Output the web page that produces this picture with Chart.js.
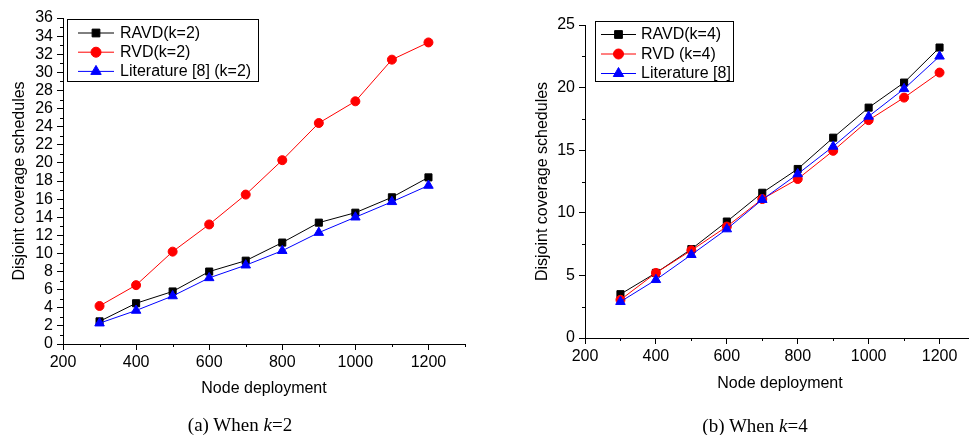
<!DOCTYPE html>
<html>
<head>
<meta charset="utf-8">
<script src="https://cdn.jsdelivr.net/npm/chart.js@4/dist/chart.umd.min.js"></script>
<style>
  html, body { margin: 0; padding: 0; background: #fff; overflow: hidden; }
  #wrap { position: relative; width: 969px; height: 435px; overflow: hidden; }
  canvas { position: absolute; top: 0; }
  #chartA { left: 0; }
  #chartB { left: 500px; }
  .cap { position: absolute; font-family: 'Liberation Serif', 'Times New Roman', serif; font-size: 19px;
         color: #000; white-space: nowrap; transform: translate(-50%, -50%); z-index: 2; }
</style>
</head>
<body>
<div id="wrap">
  <canvas id="chartA" width="480" height="435"></canvas>
  <canvas id="chartB" width="490" height="435"></canvas>
  <div class="cap" style="left:240px; top:425px;">(a) When <i>k</i>=2</div>
  <div class="cap" style="left:755px; top:426px;">(b) When <i>k</i>=4</div>
</div>
<script>
// node counts on the x axis
const nodes = [300, 400, 500, 600, 700, 800, 900, 1000, 1100, 1200];

// (a) k=2
const ravdK2 = [2.5, 4.5, 5.8, 8.0, 9.2, 11.2, 13.4, 14.5, 16.2, 18.4];
const rvdK2  = [4.2, 6.5, 10.2, 13.2, 16.5, 20.3, 24.4, 26.8, 31.4, 33.3];
const litK2  = [2.3, 3.7, 5.3, 7.3, 8.7, 10.3, 12.3, 14.0, 15.7, 17.5];

// (b) k=4
const ravdK4 = [3.5, 5.2, 7.1, 9.3, 11.6, 13.5, 16.0, 18.4, 20.4, 23.2];
const rvdK4  = [3.05, 5.2, 7.0, 8.9, 11.1, 12.7, 14.95, 17.4, 19.2, 21.2];
const litK4  = [2.9, 4.65, 6.65, 8.7, 11.05, 13.1, 15.3, 17.7, 19.9, 22.5];

const labelsK2 = ['RAVD(k=2)', 'RVD(k=2)', 'Literature [8] (k=2)'];
const labelsK4 = ['RAVD(k=4)', 'RVD (k=4)', 'Literature [8]'];

const FONT = "'Liberation Sans', Arial, sans-serif";

const pts = vals => vals.map((v, i) => ({ x: nodes[i], y: v }));

function series(label, vals, color, style, radius, order) {
    return {
        label: label,
        data: pts(vals),
        borderColor: color,
        backgroundColor: color,
        borderWidth: 1,
        pointStyle: style,
        pointRadius: radius,
        pointBorderWidth: 1,
        pointHoverRadius: radius,
        order: order
    };
}

// short unlabelled ticks between the labelled ones
const minorTicks = {
    id: 'minorTicks',
    afterDraw(chart, args, o) {
        const { ctx } = chart;
        const xs = chart.scales.x, ys = chart.scales.y;
        ctx.save();
        ctx.strokeStyle = '#000';
        ctx.lineWidth = 1;
        ctx.beginPath();
        for (let v = o.xFrom; v <= xs.max + 1e-6; v += o.xStep) {
            const px = Math.round(xs.getPixelForValue(v)) + 0.5;
            ctx.moveTo(px, xs.top);
            ctx.lineTo(px, xs.top + o.len);
        }
        for (let v = o.yFrom; v <= ys.max + 1e-6; v += o.yStep) {
            const py = Math.round(ys.getPixelForValue(v)) + 0.5;
            ctx.moveTo(ys.right - o.len, py);
            ctx.lineTo(ys.right, py);
        }
        ctx.stroke();
        ctx.restore();
    }
};

// framed legend inside the plot, Origin style
const boxLegend = {
    id: 'boxLegend',
    afterDraw(chart, args, o) {
        const { ctx } = chart;
        ctx.save();
        ctx.fillStyle = '#fff';
        ctx.fillRect(o.x, o.y, o.w, o.h);
        ctx.strokeStyle = '#000';
        ctx.lineWidth = 1;
        ctx.strokeRect(o.x + 0.5, o.y + 0.5, o.w, o.h);
        ctx.font = '16px ' + FONT;
        ctx.textBaseline = 'middle';
        chart.data.datasets.forEach((ds, i) => {
            const cy = o.firstRow + i * o.rowGap;
            ctx.strokeStyle = ds.borderColor;
            ctx.fillStyle = ds.backgroundColor;
            ctx.beginPath();
            ctx.moveTo(o.lineX0, cy + 0.5);
            ctx.lineTo(o.lineX1, cy + 0.5);
            ctx.stroke();
            Chart.helpers.drawPoint(ctx, { pointStyle: ds.pointStyle, radius: ds.pointRadius + 0.5, rotation: 0, borderWidth: 1 },
                (o.lineX0 + o.lineX1) / 2, cy + 0.5);
            ctx.fillStyle = '#000';
            ctx.fillText(ds.label, o.textX, cy + 1);
        });
        ctx.restore();
    }
};

function makeOptions(cfg) {
    return {
        responsive: false,
        animation: false,
        events: [],
        layout: { padding: { top: cfg.top, right: 15, left: 0, bottom: 0 } },
        scales: {
            x: {
                type: 'linear',
                min: 200, max: 1300,
                afterFit: s => { s.height = cfg.xHeight; },
                grid: { drawOnChartArea: false, tickLength: 6, tickColor: '#000', tickWidth: 1 },
                border: { display: true, color: '#000', width: 1 },
                ticks: { stepSize: 200, includeBounds: false, autoSkip: false, color: '#000', padding: 3, maxRotation: 0,
                         callback: v => String(v),
                         font: { family: FONT, size: 16 } },
                title: { display: true, text: 'Node deployment', color: '#000',
                         font: { family: FONT, size: 16, lineHeight: 1.2 },
                         padding: { top: 0, bottom: cfg.xTitlePad } }
            },
            y: {
                min: 0, max: cfg.yMax,
                afterFit: s => { s.width = cfg.yWidth; },
                grid: { drawOnChartArea: false, tickLength: 6, tickColor: '#000', tickWidth: 1 },
                border: { display: true, color: '#000', width: 1 },
                ticks: { stepSize: cfg.yStep, autoSkip: false, color: '#000', padding: 4,
                         callback: v => String(v),
                         font: { family: FONT, size: 16 } },
                title: { display: true, text: 'Disjoint coverage schedules', color: '#000',
                         font: { family: FONT, size: 16, lineHeight: 1.2 },
                         padding: { top: cfg.yTitlePad, bottom: 0 } }
            }
        },
        plugins: {
            legend: { display: false },
            tooltip: { enabled: false },
            minorTicks: cfg.minor,
            boxLegend: cfg.legend
        }
    };
}

new Chart(document.getElementById('chartA'), {
    type: 'line',
    data: {
        datasets: [
            series(labelsK2[0], ravdK2, '#000000', 'rect', 5, 2),
            series(labelsK2[1], rvdK2, '#ff0000', 'circle', 4.5, 1),
            series(labelsK2[2], litK2, '#0000ff', 'triangle', 5.5, 0)
        ]
    },
    options: makeOptions({
        top: 18, xHeight: 91, yWidth: 63, yMax: 36, yStep: 2,
        xTitlePad: 37, yTitlePad: 10,
        minor: { xFrom: 300, xStep: 200, yFrom: 1, yStep: 2, len: 3 },
        legend: { x: 67, y: 19, w: 191, h: 62, firstRow: 32.5, rowGap: 19.2, lineX0: 78, lineX1: 114, textX: 120 }
    }),
    plugins: [minorTicks, boxLegend]
});

new Chart(document.getElementById('chartB'), {
    type: 'line',
    data: {
        datasets: [
            series(labelsK4[0], ravdK4, '#000000', 'rect', 5, 2),
            series(labelsK4[1], rvdK4, '#ff0000', 'circle', 4.5, 1),
            series(labelsK4[2], litK4, '#0000ff', 'triangle', 5.5, 0)
        ]
    },
    options: makeOptions({
        top: 25, xHeight: 97, yWidth: 85, yMax: 25, yStep: 5,
        xTitlePad: 42, yTitlePad: 33,
        minor: { xFrom: 300, xStep: 200, yFrom: 2.5, yStep: 5, len: 3 },
        legend: { x: 95, y: 21, w: 138, h: 60, firstRow: 34, rowGap: 19.5, lineX0: 101, lineX1: 136, textX: 141 }
    }),
    plugins: [minorTicks, boxLegend]
});
</script>
</body>
</html>
